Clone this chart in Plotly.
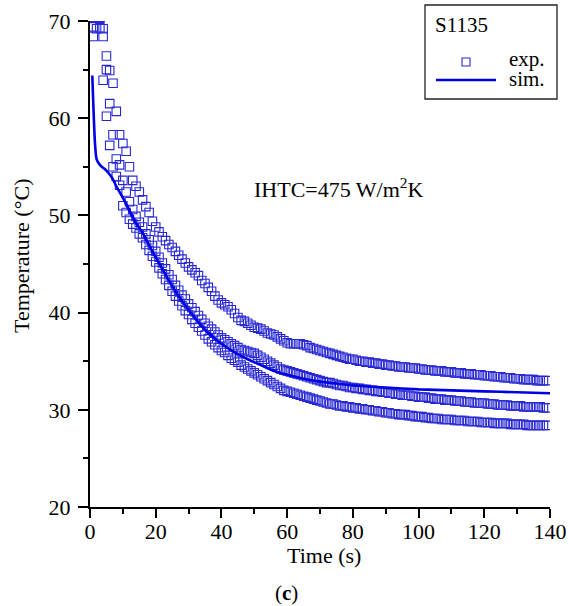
import plotly.graph_objects as go

# Measured temperatures of three thermocouples, sampled once per second
time_exp = list(range(1, 140))

temp_exp_a = [
    69.4, 70.6, 70.4, 69.2, 66.4, 64.9, 63.6, 60.7, 58.3, 57.4,
    56.6, 55.0, 53.6, 53.0, 52.4, 51.6, 50.9, 50.3, 49.4, 48.8,
    48.3, 47.8, 47.4, 47.0, 46.7, 46.3, 45.9, 45.5, 45.1, 44.7,
    44.4, 44.1, 43.8, 43.3, 43.0, 42.6, 42.2, 41.7, 41.3, 41.0,
    40.8, 40.6, 40.3, 39.9, 39.5, 39.2, 39.1, 38.9, 38.7, 38.5,
    38.4, 38.3, 38.1, 37.9, 37.8, 37.7, 37.5, 37.3, 37.1, 36.9,
    36.8, 36.8, 36.8, 36.8, 36.7, 36.6, 36.4, 36.3, 36.2, 36.1,
    36.0, 35.9, 35.8, 35.7, 35.6, 35.5, 35.4, 35.3, 35.2, 35.2,
    35.1, 35.0, 35.0, 34.9, 34.9, 34.8, 34.8, 34.7, 34.7, 34.6,
    34.6, 34.5, 34.5, 34.4, 34.4, 34.4, 34.3, 34.3, 34.3, 34.2,
    34.2, 34.1, 34.1, 34.1, 34.0, 34.0, 34.0, 33.9, 33.9, 33.9,
    33.8, 33.8, 33.8, 33.7, 33.7, 33.7, 33.6, 33.6, 33.6, 33.5,
    33.5, 33.5, 33.4, 33.4, 33.4, 33.3, 33.3, 33.3, 33.2, 33.2,
    33.2, 33.1, 33.1, 33.1, 33.1, 33.0, 33.0, 33.0, 33.0,
]

temp_exp_b = [
    68.4, 69.2, 70.3, 68.4, 65.0, 61.5, 58.3, 55.8, 55.2, 53.6,
    52.4, 51.4, 50.6, 49.9, 49.3, 48.8, 48.1, 47.5, 46.9, 46.3,
    45.7, 45.1, 44.5, 43.9, 43.4, 42.8, 42.3, 41.8, 41.4, 40.9,
    40.5, 40.1, 39.7, 39.3, 38.9, 38.6, 38.3, 38.0, 37.7, 37.4,
    37.2, 37.0, 36.8, 36.6, 36.4, 36.2, 36.1, 36.0, 35.9, 35.8,
    35.6, 35.4, 35.2, 35.0, 34.8, 34.6, 34.4, 34.2, 34.1, 34.0,
    33.9, 33.8, 33.7, 33.6, 33.5, 33.4, 33.3, 33.2, 33.1, 33.0,
    32.9, 32.8, 32.8, 32.7, 32.6, 32.5, 32.5, 32.4, 32.3, 32.3,
    32.2, 32.2, 32.1, 32.1, 32.0, 32.0, 31.9, 31.9, 31.8, 31.8,
    31.7, 31.7, 31.6, 31.6, 31.5, 31.5, 31.5, 31.4, 31.4, 31.3,
    31.3, 31.3, 31.2, 31.2, 31.1, 31.1, 31.1, 31.0, 31.0, 31.0,
    30.9, 30.9, 30.9, 30.8, 30.8, 30.8, 30.7, 30.7, 30.7, 30.7,
    30.6, 30.6, 30.6, 30.5, 30.5, 30.5, 30.5, 30.4, 30.4, 30.4,
    30.4, 30.3, 30.3, 30.3, 30.3, 30.3, 30.3, 30.2, 30.2,
]

temp_exp_c = [
    70.4, 70.5, 69.3, 63.9, 60.2, 57.2, 55.0, 54.0, 53.1, 51.0,
    50.3, 49.6, 49.1, 48.7, 48.1, 47.7, 47.0, 46.4, 45.8, 45.2,
    44.6, 44.0, 43.4, 42.8, 42.2, 41.7, 41.2, 40.7, 40.2, 39.8,
    39.3, 38.9, 38.5, 38.1, 37.7, 37.3, 37.0, 36.7, 36.4, 36.1,
    35.9, 35.6, 35.3, 35.1, 34.9, 34.6, 34.4, 34.2, 34.0, 33.8,
    33.6, 33.4, 33.2, 33.0, 32.8, 32.6, 32.4, 32.2, 32.0, 31.9,
    31.8, 31.7, 31.6, 31.5, 31.4, 31.3, 31.2, 31.1, 31.0, 30.9,
    30.8, 30.7, 30.6, 30.6, 30.5, 30.4, 30.4, 30.3, 30.3, 30.2,
    30.2, 30.1, 30.1, 30.0, 30.0, 29.9, 29.9, 29.8, 29.8, 29.7,
    29.7, 29.6, 29.6, 29.5, 29.5, 29.5, 29.4, 29.4, 29.3, 29.3,
    29.3, 29.2, 29.2, 29.1, 29.1, 29.1, 29.0, 29.0, 29.0, 29.0,
    28.9, 28.9, 28.9, 28.9, 28.8, 28.8, 28.8, 28.8, 28.7, 28.7,
    28.7, 28.7, 28.6, 28.6, 28.6, 28.6, 28.6, 28.5, 28.5, 28.5,
    28.5, 28.5, 28.4, 28.4, 28.4, 28.4, 28.4, 28.4, 28.4,
]

# Simulated cooling curve
time_sim = [0.7, 1.0, 1.5, 2.0, 3.0, 4.0, 5.0, 6.0, 7.0, 8.0,
            10, 12, 14, 16, 18, 20, 22, 24, 26, 28,
            30, 33, 36, 40, 44, 48, 52, 56, 60, 65,
            70, 75, 80, 90, 100, 110, 120, 130, 140]
temp_sim = [64.4, 61.5, 57.5, 55.8, 55.2, 54.9, 54.6, 54.2, 53.7, 53.0,
            51.8, 50.5, 49.2, 48.2, 46.9, 45.7, 44.5, 43.3, 42.2, 41.2,
            40.3, 39.0, 37.9, 36.8, 35.9, 35.2, 34.6, 34.0, 33.6, 33.2,
            32.9, 32.7, 32.5, 32.3, 32.1, 32.0, 31.9, 31.8, 31.7]

x_ticks = [0, 20, 40, 60, 80, 100, 120, 140]
y_ticks = [20, 30, 40, 50, 60, 70]

FONT = "Liberation Serif, serif"
MARK_COLOR = "#2828d4"
LINE_COLOR = "#0000e6"

fig = go.Figure()

for series in (temp_exp_a, temp_exp_b, temp_exp_c):
    fig.add_trace(go.Scatter(
        x=time_exp, y=series, mode="markers", name="exp.",
        marker=dict(symbol="square-open", size=8.5,
                    color=MARK_COLOR, line=dict(width=1.1, color=MARK_COLOR)),
        showlegend=False,
    ))

fig.add_trace(go.Scatter(
    x=time_sim, y=temp_sim, mode="lines", name="sim.",
    line=dict(color=LINE_COLOR, width=2.6, shape="spline", smoothing=0.6),
    showlegend=False,
))

axis_common = dict(
    showline=True, linewidth=2, linecolor="black",
    ticks="outside", tickwidth=2, tickcolor="black",
    showgrid=False, zeroline=False, automargin=False,
    tickfont=dict(family=FONT, size=22, color="black"),
)

fig.update_xaxes(
    range=[0, 140], tickvals=x_ticks, ticklen=9, ticklabelstandoff=-5,
    minor=dict(ticks="outside", ticklen=5, tickwidth=2, tickcolor="black",
               dtick=10, tick0=0, showgrid=False),
    **axis_common,
)
fig.update_yaxes(
    range=[20, 70], tickvals=y_ticks, ticklen=10, ticklabelstandoff=3,
    minor=dict(ticks="outside", ticklen=5, tickwidth=2, tickcolor="black",
               dtick=5, tick0=20, showgrid=False),
    **axis_common,
)

# plot area: x 90..550 px, y 21..507 px
W, H = 569, 606
L, R, T, B = 90, 550, 21, 507


def px(x):
    return (x - L) / (R - L)


def py(y):
    return (B - y) / (B - T)


text_font = dict(family=FONT, size=22, color="black")
legend_font = dict(family=FONT, size=21, color="black")
annotations = [
    dict(text="Temperature (°C)", x=px(22), y=py(256), xref="paper", yref="paper",
         textangle=-90, showarrow=False, font=text_font,
         xanchor="center", yanchor="middle"),
    dict(text="Time (s)", x=px(324), y=py(555), xref="paper", yref="paper",
         showarrow=False, font=text_font, xanchor="center", yanchor="middle"),
    dict(text="(<b>c</b>)", x=px(286), y=py(593), xref="paper", yref="paper",
         showarrow=False, font=dict(family=FONT, size=21, color="black"),
         xanchor="center", yanchor="middle"),
    dict(text="IHTC=475 W/m<sup>2</sup>K", x=49.3, y=52.8, xref="x", yref="y",
         showarrow=False, font=text_font, xanchor="left", yanchor="middle"),
    # legend texts
    dict(text="S1135", x=px(433), y=py(25), xref="paper", yref="paper",
         showarrow=False, font=legend_font, xanchor="left", yanchor="middle"),
    dict(text="exp.", x=px(507), y=py(59), xref="paper", yref="paper",
         showarrow=False, font=legend_font, xanchor="left", yanchor="middle"),
    dict(text="sim.", x=px(507), y=py(79), xref="paper", yref="paper",
         showarrow=False, font=legend_font, xanchor="left", yanchor="middle"),
]

shapes = [
    # legend frame
    dict(type="rect", xref="paper", yref="paper",
         x0=px(425), x1=px(557), y0=py(99), y1=py(5),
         line=dict(color="#222222", width=1.3), fillcolor="white", layer="above"),
    # legend symbol for measured data
    dict(type="rect", xref="paper", yref="paper",
         x0=px(462), x1=px(470), y0=py(66), y1=py(58),
         line=dict(color=MARK_COLOR, width=1.1), layer="above"),
    # legend symbol for simulation
    dict(type="line", xref="paper", yref="paper",
         x0=px(436), x1=px(496), y0=py(80), y1=py(80),
         line=dict(color=LINE_COLOR, width=2.6), layer="above"),
]

fig.update_layout(
    width=W, height=H,
    margin=dict(l=L, r=W - R, t=T, b=H - B),
    paper_bgcolor="white", plot_bgcolor="white",
    showlegend=False,
    annotations=annotations,
    shapes=shapes,
    font=dict(family=FONT, color="black"),
)

fig.write_html("out.html")
